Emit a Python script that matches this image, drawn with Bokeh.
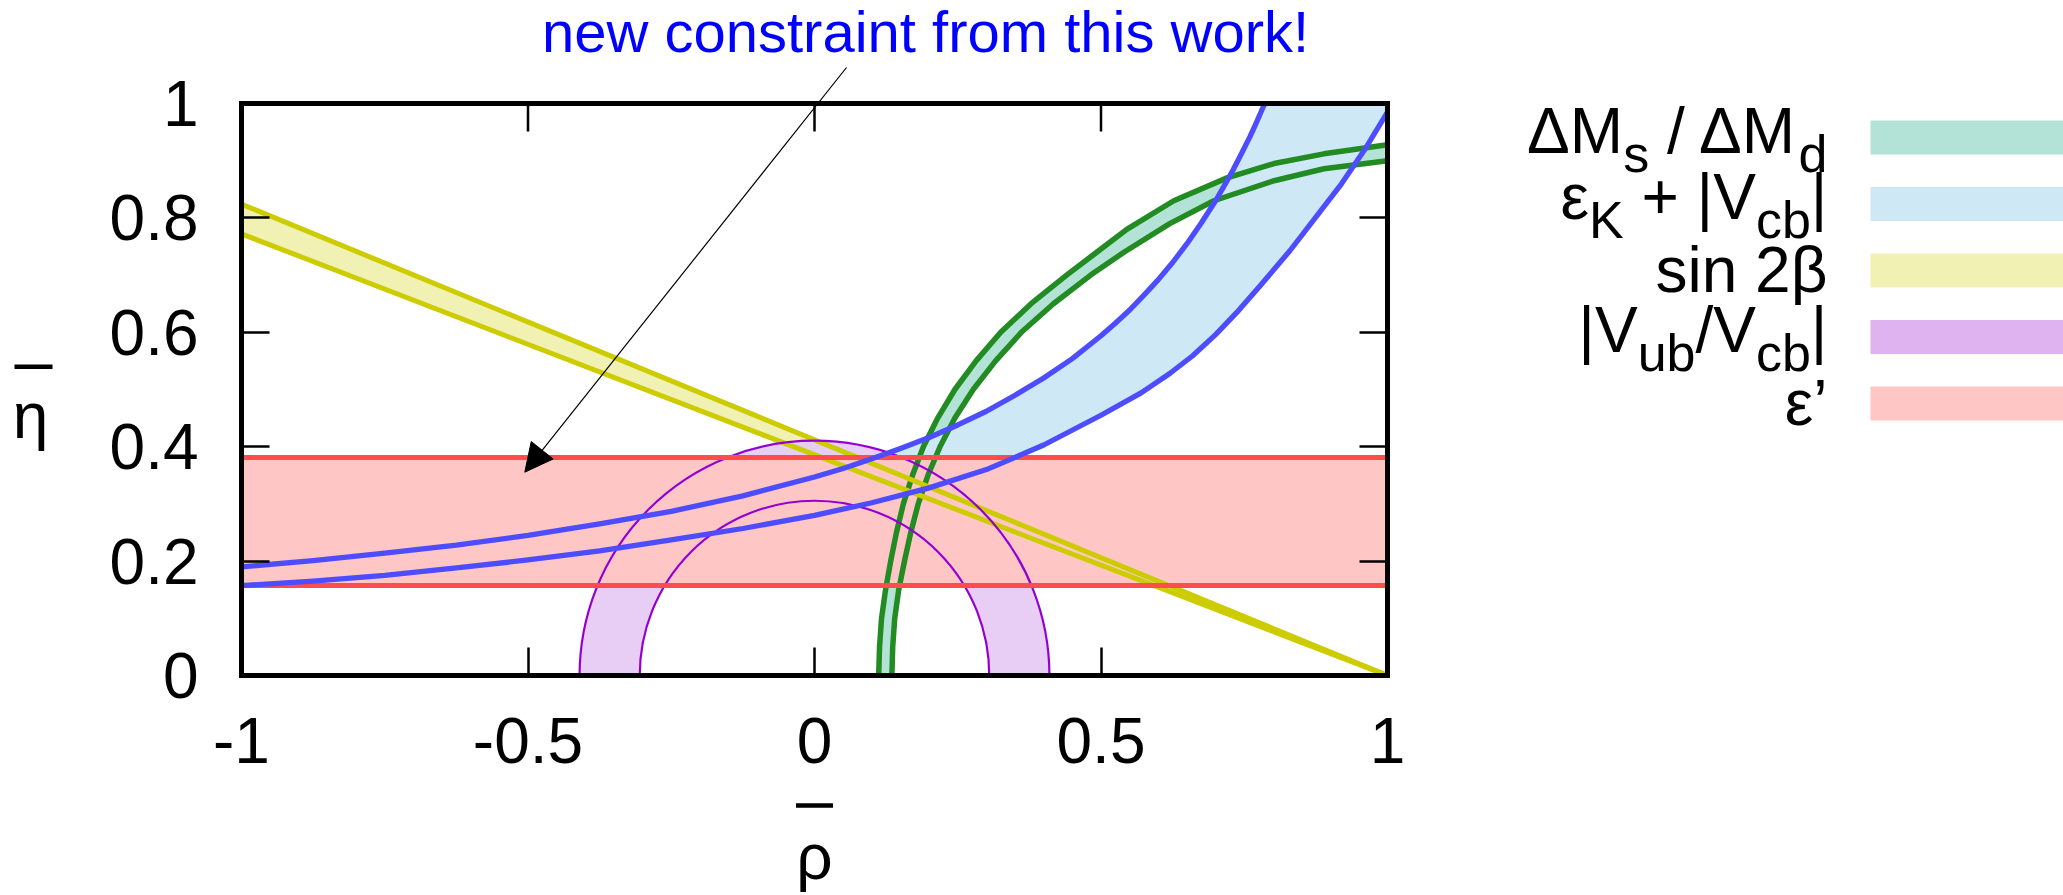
from bokeh.plotting import figure
from bokeh.models import (Range1d, LinearAxis, FixedTicker, CustomJSTickFormatter,
                          Arrow, NormalHead)
from bokeh.layouts import row, column
from bokeh.embed import file_html
from bokeh.resources import INLINE
from bokeh.core.properties import value

FONT = "Liberation Sans"

# ------------------------------------------------------------------ data
x_ticks = [-1, -0.5, 0, 0.5, 1]
y_ticks = [0, 0.2, 0.4, 0.6, 0.8, 1]

# epsilon' : horizontal band in eta
epsp_band = [0.157, 0.381]

# sin 2beta : two straight lines through (1, 0)
sin2b_rho = [-1.0, 1.0]
sin2b_eta_upper = [0.824, 0.0]
sin2b_eta_lower = [0.772, 0.0]

# |Vub/Vcb| : annulus around the origin
vub_center_rho = [0.0]
vub_center_eta = [0.0]
vub_r_inner = 0.305
vub_r_outer = 0.41

# eps_K + |Vcb| : two curves (upper one leaves the box at the top)
epsk_up_rho = [-1.0, -0.875, -0.75, -0.625, -0.5, -0.375, -0.25, -0.125, 0.0, 0.05, 0.1,
               0.15, 0.2, 0.25, 0.3, 0.35, 0.4, 0.45, 0.5, 0.525, 0.55, 0.575, 0.6, 0.625,
               0.65, 0.675, 0.7, 0.715, 0.73, 0.745, 0.76, 0.77, 0.78, 0.786]
epsk_up_eta = [0.190, 0.201, 0.214, 0.228, 0.245, 0.265, 0.287, 0.314, 0.347, 0.362, 0.379,
               0.397, 0.416, 0.438, 0.462, 0.490, 0.520, 0.554, 0.594, 0.616, 0.639, 0.665,
               0.692, 0.722, 0.755, 0.791, 0.830, 0.856, 0.883, 0.912, 0.942, 0.964, 0.987,
               1.000]
epsk_lo_rho = [-1.0, -0.875, -0.75, -0.625, -0.5, -0.375, -0.25, -0.125, 0.0, 0.1, 0.2,
               0.3, 0.4, 0.5, 0.57, 0.62, 0.66, 0.70, 0.74, 0.78, 0.83, 0.88, 0.92, 0.96,
               1.0, 1.01]
epsk_lo_eta = [0.157, 0.165, 0.175, 0.188, 0.202, 0.218, 0.237, 0.257, 0.280, 0.302, 0.328,
               0.360, 0.403, 0.455, 0.494, 0.528, 0.559, 0.596, 0.638, 0.684, 0.743, 0.808,
               0.860, 0.919, 0.985, 1.002]

# Delta M_s / Delta M_d : two curves
dms_out_rho = [0.111, 0.112, 0.1135, 0.117, 0.124, 0.133, 0.143, 0.155, 0.171, 0.190,
               0.215, 0.245, 0.282, 0.325, 0.378, 0.440, 0.4925, 0.545, 0.627, 0.720,
               0.802, 0.889, 1.000, 1.010]
dms_out_eta = [-0.020, 0.000, 0.050, 0.100, 0.150, 0.200, 0.250, 0.300, 0.350, 0.400,
               0.450, 0.500, 0.550, 0.600, 0.650, 0.700, 0.740, 0.780, 0.830, 0.870,
               0.895, 0.912, 0.928, 0.929]
dms_in_rho = [0.134, 0.135, 0.1365, 0.140, 0.147, 0.157, 0.168, 0.181, 0.198, 0.219,
              0.245, 0.277, 0.316, 0.361, 0.417, 0.482, 0.540, 0.620, 0.697, 0.802,
              0.889, 1.000, 1.010]
dms_in_eta = [-0.020, 0.000, 0.050, 0.100, 0.150, 0.200, 0.250, 0.300, 0.350, 0.400,
              0.450, 0.500, 0.550, 0.600, 0.650, 0.700, 0.740, 0.790, 0.830, 0.865,
              0.886, 0.900, 0.901]

# legend entries: (text, is_subscript)
legend_entries = [
    [("ΔM", False), ("s", True), (" / ΔM", False), ("d", True)],
    [("ε", False), ("K", True), (" + |V", False), ("cb", True), ("|", False)],
    [("sin 2β", False)],
    [("|V", False), ("ub", True), ("/V", False), ("cb", True), ("|", False)],
    [("ε’", False)],
]
annotation_text = "new constraint from this work!"
x_label_text = "ρ"
y_label_text = "η"

# ------------------------------------------------------------------ styles / layout
FILL_DM, LINE_DM = "#b3e3d6", "#228b22"
FILL_EK, LINE_EK = "#cee8f6", "#4d4dff"
FILL_S2B, LINE_S2B = "#f1f1b3", "#cccc00"
FILL_VUB, LINE_VUB = "#e8cdf5", "#9400d3"
FILL_EP, LINE_EP = "#ffc6c6", "#ff4d4d"
legend_swatch_colors = ["#b3e3d6", "#cee8f6", "#f1f1b3", "#dfb3f0", "#ffc6c6"]

ROW_H, BOT_H = 785, 110                      # page rows
LEFT_W, MAIN_W, LEG_W = 80, 1360, 623        # page columns
FR_L, FR_T, FR_R, FR_B = 241, 103, 1387, 675 # plot box in page pixels
BOX_H = FR_B - FR_T
TICK_LEN = 28
BASE_SHIFT = 0.35   # measured: text glyph baseline offset, in em


def px2data(X, Y):
    return (-1 + (X - FR_L) / (FR_R - FR_L) * 2.0, 1 - (Y - FR_T) / BOX_H)


def blank_fig(width, height, xr, yr, **kw):
    f = figure(width=width, height=height, x_range=xr, y_range=yr,
               output_backend="svg", toolbar_location=None,
               x_axis_location=None, y_axis_location=None,
               outline_line_color=None, background_fill_color="white",
               border_fill_color="white", **kw)
    f.grid.visible = False
    return f


def put_text(fig, xs, ys, texts, px, color="black", align="left"):
    fig.text(x=xs, y=[y - BASE_SHIFT * px for y in ys], text=texts,
             text_font=value(FONT), text_font_size=f"{px}px", text_color=color,
             text_align=align, text_baseline="alphabetic")


def put_bar(fig, cx, cy, w=38, h=4.5):
    """the overline drawn above a symbol"""
    fig.quad(left=[cx - w / 2], right=[cx + w / 2], top=[cy - h / 2], bottom=[cy + h / 2],
             fill_color="black", line_color=None)


# ---------------- main plot (frame reaches the canvas top so the annotation fits)
p = figure(width=MAIN_W, height=ROW_H, x_range=Range1d(-1, 1),
           y_range=Range1d(0, 1 + FR_T / BOX_H),
           output_backend="svg", toolbar_location=None,
           x_axis_location=None, y_axis_location=None,
           min_border_left=FR_L - LEFT_W, min_border_top=0,
           min_border_right=LEFT_W + MAIN_W - FR_R, min_border_bottom=ROW_H - FR_B,
           background_fill_color="white", border_fill_color="white",
           outline_line_color=None)
p.grid.visible = False


def make_axis(ticks, show, standoff):
    code = "return tick.toString();" if show else "return '';"
    ax = LinearAxis(ticker=FixedTicker(ticks=ticks), bounds=(ticks[0], ticks[-1]),
                    formatter=CustomJSTickFormatter(code=code))
    ax.axis_line_color = "black"
    ax.axis_line_width = 5
    ax.axis_line_cap = "square"
    ax.major_tick_in = TICK_LEN
    ax.major_tick_out = 0
    ax.major_tick_line_width = 2.5
    ax.major_tick_line_color = "black"
    ax.minor_tick_line_color = None
    ax.major_label_standoff = standoff
    ax.major_label_text_font = FONT
    ax.major_label_text_font_size = "64px" if show else "1px"
    ax.major_label_text_color = "black"
    return ax


p.add_layout(make_axis(x_ticks, True, 42), "below")
p.add_layout(make_axis(y_ticks, True, 43), "left")
p.add_layout(make_axis(y_ticks, False, 0), "right")

# fills
p.patch(dms_out_rho + dms_in_rho[::-1], dms_out_eta + dms_in_eta[::-1],
        fill_color=FILL_DM, line_color=None)
p.patch(epsk_up_rho + [x_ticks[-1]] + epsk_lo_rho[::-1],
        epsk_up_eta + [y_ticks[-1]] + epsk_lo_eta[::-1],
        fill_color=FILL_EK, line_color=None)
p.patch(sin2b_rho + sin2b_rho[::-1], sin2b_eta_upper + sin2b_eta_lower[::-1],
        fill_color=FILL_S2B, line_color=None)
p.annulus(x=vub_center_rho, y=vub_center_eta, inner_radius=vub_r_inner,
          outer_radius=vub_r_outer, fill_color=FILL_VUB, line_color=None)
p.hstrip(y0=[epsp_band[0]], y1=[epsp_band[1]], fill_color=FILL_EP, line_color=None)

# lines
for xs, ys in [(dms_out_rho, dms_out_eta), (dms_in_rho, dms_in_eta)]:
    p.line(xs, ys, line_color=LINE_DM, line_width=5.5, line_join="round")
for ys in [sin2b_eta_upper, sin2b_eta_lower]:
    p.line(sin2b_rho, ys, line_color=LINE_S2B, line_width=5)
p.annulus(x=vub_center_rho, y=vub_center_eta, inner_radius=vub_r_inner,
          outer_radius=vub_r_outer, fill_color=None, line_color=LINE_VUB, line_width=2.2)
p.hspan(y=epsp_band, line_color=LINE_EP, line_width=5)
for xs, ys in [(epsk_up_rho, epsk_up_eta), (epsk_lo_rho, epsk_lo_eta)]:
    p.line(xs, ys, line_color=LINE_EK, line_width=5.3, line_join="round")

# top edge of the box and its mirrored ticks
p.hspan(y=[y_ticks[-1]], line_color="black", line_width=5)
p.segment(x0=x_ticks, y0=[y_ticks[-1]] * len(x_ticks), x1=x_ticks,
          y1=[y_ticks[-1] - TICK_LEN / BOX_H] * len(x_ticks),
          line_color="black", line_width=2.5)

# annotation and arrow
tx, ty = px2data(925, 51.5 - BASE_SHIFT * 58)
p.text(x=[tx], y=[ty], text=[annotation_text], text_font=value(FONT),
       text_font_size="58px", text_color="#0000ff", text_align="center",
       text_baseline="alphabetic")
xs0, ys0 = px2data(846, 67)
xe0, ye0 = px2data(524.3, 471.7)
p.add_layout(Arrow(x_start=xs0, y_start=ys0, x_end=xe0, y_end=ye0,
                   line_color="black", line_width=1.2,
                   end=NormalHead(size=28, fill_color="black", line_color="black",
                                  line_width=1)))

# ---------------- left strip: eta-bar label
left = blank_fig(LEFT_W, ROW_H, Range1d(0, LEFT_W), Range1d(FR_B, 0),
                 min_border_left=0, min_border_right=0,
                 min_border_top=0, min_border_bottom=ROW_H - FR_B)
put_text(left, [30], [438], [y_label_text], 64, align="center")
put_bar(left, 33, 366.3)

# ---------------- legend
leg = blank_fig(LEG_W, ROW_H, Range1d(LEFT_W + MAIN_W, LEFT_W + MAIN_W + LEG_W),
                Range1d(FR_B, 0),
                min_border_left=0, min_border_right=0,
                min_border_top=0, min_border_bottom=ROW_H - FR_B)

WIDTHS = {" ": 0.278, "/": 0.278, "+": 0.584, "|": 0.260, "2": 0.556, "M": 0.833,
          "K": 0.667, "V": 0.667, "b": 0.556, "c": 0.5, "d": 0.556, "i": 0.222,
          "n": 0.556, "s": 0.5, "u": 0.556, "’": 0.222, "Δ": 0.668, "ε": 0.446,
          "β": 0.576}
MAIN_PX, SUB_PX = 64, 52
TEXT_RIGHT = 1827
SW_LEFT, SW_RIGHT = 1870, LEFT_W + MAIN_W + LEG_W
row_centers = [137 + i * 66.5 for i in range(len(legend_entries))]


def seg_w(t, size):
    return sum(WIDTHS.get(ch, 0.556) for ch in t) * size


leg.quad(left=[SW_LEFT] * len(row_centers), right=[SW_RIGHT] * len(row_centers),
         top=[c - 17 for c in row_centers], bottom=[c + 17 for c in row_centers],
         fill_color=legend_swatch_colors, line_color=None)

main_x, main_y, main_t = [], [], []
sub_x, sub_y, sub_t = [], [], []
for i, segs in enumerate(legend_entries):
    has_sub = any(s for _, s in segs)
    base = row_centers[i] + (15.5 if has_sub else 22)
    total = sum(seg_w(t, SUB_PX if s else MAIN_PX) for t, s in segs)
    x = TEXT_RIGHT - total
    for t, s in segs:
        size = SUB_PX if s else MAIN_PX
        stripped = t.lstrip(" ")
        lead = len(t) - len(stripped)
        px = x + lead * WIDTHS[" "] * size
        if s:
            sub_x.append(px); sub_y.append(base + 19); sub_t.append(stripped)
        else:
            main_x.append(px); main_y.append(base); main_t.append(stripped)
        x += seg_w(t, size)

put_text(leg, main_x, main_y, main_t, MAIN_PX)
put_text(leg, sub_x, sub_y, sub_t, SUB_PX)

# ---------------- bottom strip: rho-bar label
bottom = blank_fig(LEFT_W + MAIN_W, BOT_H, Range1d(0, LEFT_W + MAIN_W),
                   Range1d(ROW_H + BOT_H, ROW_H),
                   min_border=0, min_border_left=0, min_border_right=0,
                   min_border_top=0, min_border_bottom=0)
put_text(bottom, [814], [879], [x_label_text], 64, align="center")
put_bar(bottom, 814, 805, w=37)

layout = column(row(left, p, leg), bottom)
open("out.html", "w").write(file_html(layout, INLINE))
